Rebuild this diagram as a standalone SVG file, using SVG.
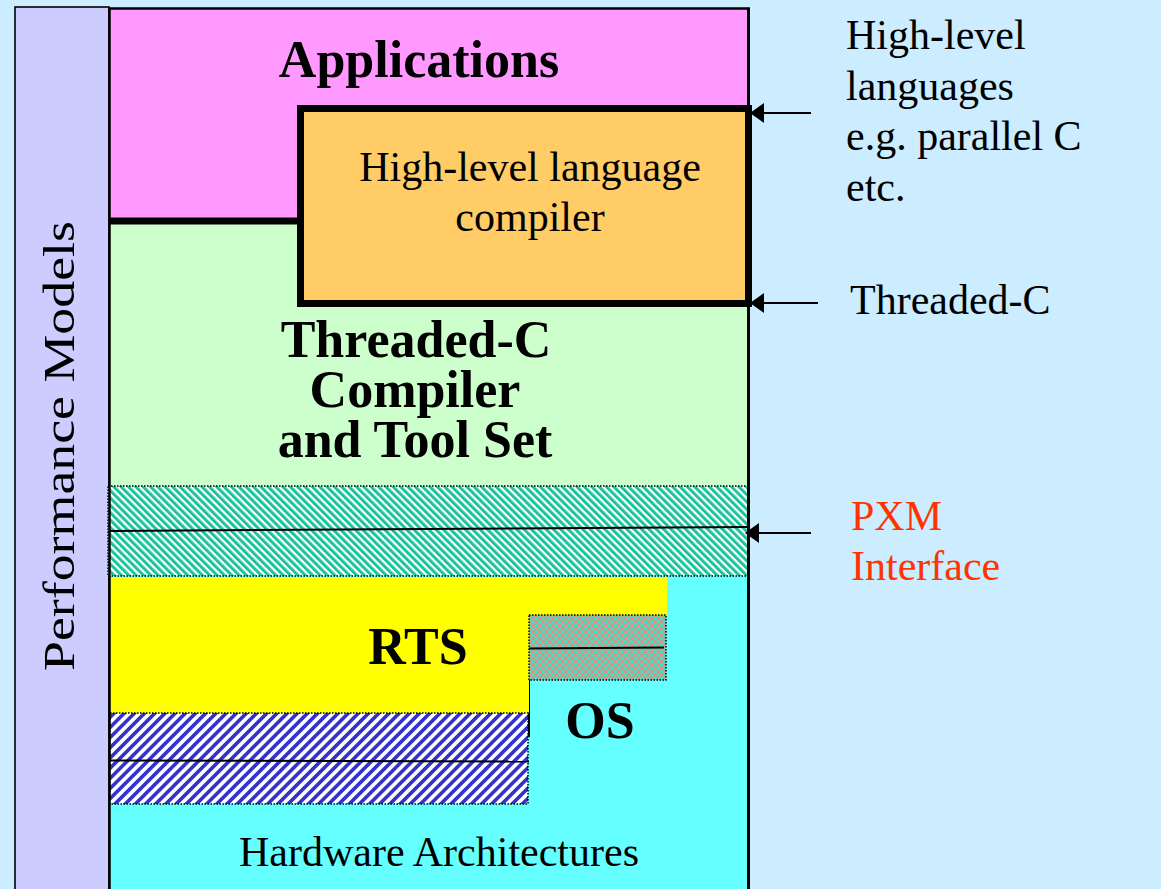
<svg xmlns="http://www.w3.org/2000/svg" width="1161" height="889" viewBox="0 0 1161 889">
  <style>
    .serif { font-family: "Liberation Serif", "Times New Roman", serif; fill: #000; }
    .title { font-size: 52px; font-weight: bold; text-anchor: middle; }
    .body { font-size: 42px; }
    .mid { text-anchor: middle; }
    .note { font-size: 42px; }
    .pxm { fill: #FF3300; }
    .edge { stroke: #000; stroke-width: 1.8; fill: none; }
    .dots { fill: none; stroke: #000; stroke-width: 1.5; stroke-dasharray: 1.5 1.5; }
    .rule { stroke: #000; stroke-width: 2; }
  </style>
  <defs>
    <!-- teal diagonal hatch, falling to the right -->
    <pattern id="hatchTeal" width="5.2" height="5.2" patternUnits="userSpaceOnUse" patternTransform="rotate(-45)">
      <rect width="5.2" height="5.2" fill="#FFFFFF"/>
      <rect width="3" height="5.2" fill="#19C49C"/>
    </pattern>
    <!-- blue diagonal hatch, rising to the right -->
    <pattern id="hatchBlue" width="7.2" height="7.2" patternUnits="userSpaceOnUse" patternTransform="rotate(45)">
      <rect width="7.2" height="7.2" fill="#FFFFFF"/>
      <rect width="3.6" height="7.2" fill="#3333CC"/>
    </pattern>
    <!-- salmon / aqua checkerboard -->
    <pattern id="checker" width="6.6" height="6.6" patternUnits="userSpaceOnUse">
      <rect width="6.6" height="6.6" fill="#2EEBC4"/>
      <rect width="3.3" height="3.3" fill="#F58585"/>
      <rect x="3.3" y="3.3" width="3.3" height="3.3" fill="#F58585"/>
    </pattern>
  </defs>

  <rect x="0" y="0" width="1161" height="889" fill="#CCECFF"/>

  <!-- side bar -->
  <g id="performance-models">
    <rect x="15" y="7" width="94" height="900" fill="#CCCCFF" stroke="#000" stroke-width="1.6"/>
    <text class="serif" font-size="45" text-anchor="middle" transform="translate(74,446) rotate(-90)" textLength="450" lengthAdjust="spacingAndGlyphs">Performance Models</text>
  </g>

  <!-- hardware layer with OS -->
  <g id="hardware">
    <rect x="110" y="576" width="638" height="320" fill="#66FFFF"/>
    <line x1="529" y1="615" x2="529" y2="737" class="rule"/>
    <text class="serif body mid" x="439" y="866">Hardware Architectures</text>
    <text class="serif title" x="600" y="738">OS</text>
  </g>

  <!-- runtime system -->
  <g id="rts">
    <polygon points="110,577 667,577 667,615 529,615 529,713 110,713" fill="#FFFF00"/>
    <text class="serif title" x="418" y="664">RTS</text>
  </g>

  <g id="os-interface">
    <rect x="529" y="615" width="137" height="65" fill="url(#checker)"/>
    <rect x="529" y="615" width="137" height="65" class="dots"/>
    <line x1="529" y1="648.5" x2="664" y2="647.5" class="rule"/>
  </g>

  <g id="rts-interface">
    <rect x="110" y="713" width="418" height="91" fill="url(#hatchBlue)"/>
    <rect x="110" y="713" width="418" height="91" class="dots"/>
    <line x1="110" y1="760.5" x2="529" y2="761.5" class="rule"/>
  </g>

  <!-- applications layer -->
  <g id="applications">
    <rect x="110" y="9" width="638" height="212" fill="#FF99FF"/>
    <text class="serif title" x="419" y="77">Applications</text>
  </g>

  <!-- threaded-C compiler layer -->
  <g id="threaded-c-compiler">
    <rect x="110" y="221" width="638" height="265" fill="#CCFFCC"/>
    <line x1="110" y1="221" x2="300" y2="221" stroke="#000" stroke-width="7"/>
    <text class="serif title" x="416" y="357">Threaded-C</text>
    <text class="serif title" x="415" y="407">Compiler</text>
    <text class="serif title" x="415" y="457">and Tool Set</text>
  </g>

  <g id="hll-compiler">
    <rect x="300.5" y="108.5" width="448" height="195" fill="#FFCC66" stroke="#000" stroke-width="7"/>
    <text class="serif body mid" x="530" y="181">High-level language</text>
    <text class="serif body mid" x="530" y="231">compiler</text>
  </g>

  <g id="pxm-interface">
    <rect x="108" y="486" width="640" height="90" fill="url(#hatchTeal)"/>
    <rect x="108" y="486" width="640" height="90" class="dots"/>
    <line x1="110" y1="531" x2="748" y2="527" class="rule"/>
  </g>

  <!-- outer frame of the layer stack -->
  <g id="frame">
    <line x1="109" y1="8.5" x2="750" y2="8.5" stroke="#000" stroke-width="2.5"/>
    <line x1="109.5" y1="8" x2="109.5" y2="889" stroke="#000" stroke-width="2.5"/>
    <line x1="748.5" y1="8" x2="748.5" y2="889" stroke="#000" stroke-width="3"/>
  </g>

  <g id="connectors">
    <line x1="811" y1="113" x2="764" y2="113" class="edge"/>
    <path d="M750,113 L764,103 L764,123 Z" fill="#000"/>
    <line x1="818" y1="303" x2="764" y2="303" class="edge"/>
    <path d="M750,303 L764,293 L764,313 Z" fill="#000"/>
    <line x1="811" y1="533" x2="759" y2="533" class="edge"/>
    <path d="M745,533 L759,523 L759,543 Z" fill="#000"/>
  </g>

  <g id="labels">
    <text class="serif note" x="846" y="49">High-level</text>
    <text class="serif note" x="846" y="100">languages</text>
    <text class="serif note" x="846" y="150">e.g. parallel C</text>
    <text class="serif note" x="846" y="201">etc.</text>
    <text class="serif note" x="850" y="314">Threaded-C</text>
    <text class="serif note pxm" x="851" y="530">PXM</text>
    <text class="serif note pxm" x="851" y="580">Interface</text>
  </g>
</svg>
